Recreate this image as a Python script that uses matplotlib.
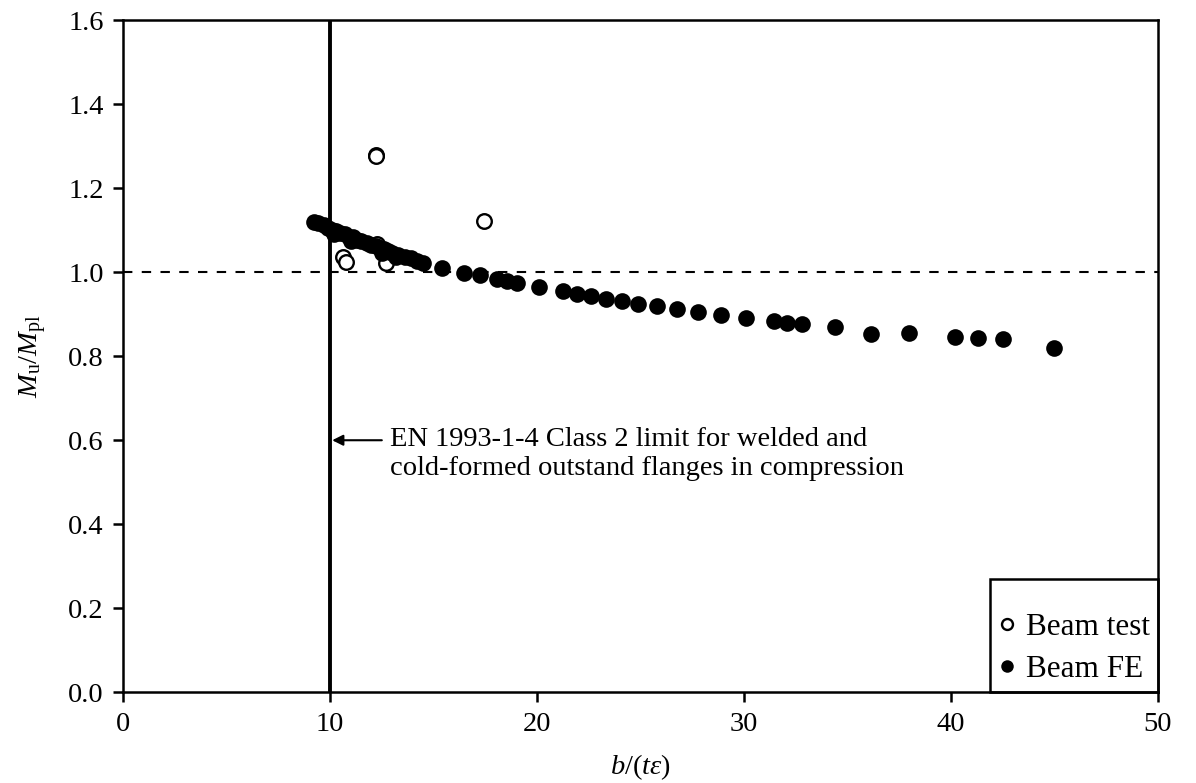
import numpy as np
import matplotlib
matplotlib.use('Agg')
import matplotlib.pyplot as plt
from matplotlib.patches import Rectangle

plt.rcParams['font.family'] = ['Liberation Serif', 'DejaVu Serif']
plt.rcParams['mathtext.fontset'] = 'custom'
plt.rcParams['mathtext.rm'] = 'Liberation Serif'
plt.rcParams['mathtext.it'] = 'Liberation Serif:italic'

# Beam FE results (filled)
fe_x = [9.2, 9.4, 9.7, 9.9, 10.1, 10.2, 10.3, 10.5, 10.7, 10.9, 11.0, 11.1, 11.3, 11.5,
        11.8, 12.0, 12.2, 12.4, 12.5, 12.6, 12.8, 13.0, 13.2, 13.3, 13.6, 13.9, 14.2, 14.5,
        15.42, 16.45, 17.23, 18.06, 18.55, 19.03, 20.09, 21.24, 21.92, 22.59, 23.33, 24.1,
        24.9, 25.8, 26.75, 27.8, 28.9, 30.1, 31.45, 32.1, 32.8, 34.4, 36.15, 38.0, 40.2,
        41.3, 42.5, 45.0]
fe_y = [1.120, 1.117, 1.112, 1.105, 1.100, 1.090, 1.098, 1.093, 1.090, 1.085, 1.074, 1.083,
        1.078, 1.075, 1.070, 1.066, 1.062, 1.058, 1.046, 1.055, 1.050, 1.046, 1.036, 1.042,
        1.037, 1.033, 1.028, 1.022,
        1.011, 0.999, 0.993, 0.983, 0.979, 0.975, 0.964, 0.955, 0.948, 0.943, 0.937, 0.931,
        0.925, 0.919, 0.913, 0.905, 0.898, 0.892, 0.883, 0.880, 0.877, 0.870, 0.854, 0.856,
        0.846, 0.843, 0.840, 0.820]

# Beam test results (open)
test_x = [12.2, 12.2, 17.45, 10.6, 10.75, 12.25, 12.7]
test_y = [1.280, 1.276, 1.123, 1.036, 1.024, 1.068, 1.022]

class2_limit = 10
note = 'EN 1993-1-4 Class 2 limit for welded and\ncold-formed outstand flanges in compression'

fs = 20.5

fig = plt.figure(figsize=(11.96, 7.83), dpi=100)
ax = fig.add_axes([0.103, 0.116, 0.865, 0.858])

ax.axvline(class2_limit, color='black', lw=2.8, zorder=1)
ax.axhline(1.0, color='black', lw=1.5, dashes=(4.5, 4.5), zorder=1)

ax.plot(test_x, test_y, 'o', ms=10.5, mfc='white', mec='black', mew=1.7,
        label='Beam test', zorder=2)
ax.plot(fe_x, fe_y, 'o', ms=12, mfc='black', mec='black', mew=0,
        label='Beam FE', zorder=3)

# arrow pointing at the Class 2 limit line
ax.annotate('', xy=(class2_limit, 0.6), xytext=(12.5, 0.6),
            arrowprops=dict(arrowstyle='-|>', color='black', lw=1.5,
                            mutation_scale=16, shrinkA=0, shrinkB=1.5))
ax.text(12.9, 0.631, note, fontsize=fs, va='top', ha='left', linespacing=1.22)

ax.set_xlim(0, 50)
ax.set_ylim(0, 1.6)
ax.set_xticks(np.arange(0, 51, 10))
ax.set_yticks(np.arange(0, 1.61, 0.2))
ax.yaxis.set_major_formatter(matplotlib.ticker.FormatStrFormatter('%.1f'))
ax.tick_params(direction='out', length=7, width=1.8, labelsize=fs, pad=7)
for s in ax.spines.values():
    s.set_linewidth(1.8)

ax.set_xlabel(r'$b/(t\varepsilon)$', fontsize=fs, labelpad=11)
ax.set_ylabel(r'$M_\mathrm{u}/M_\mathrm{pl}$', fontsize=fs, labelpad=14)

# legend box drawn separately (Excel-style, tight on the right)
ax.add_patch(Rectangle((0.838, 0.0), 0.162, 0.168, transform=ax.transAxes,
                       fill=False, edgecolor='black', lw=1.8, zorder=5, clip_on=False))
leg = ax.legend(loc='lower right', bbox_to_anchor=(1.0, 0.0), fontsize=22.5,
                frameon=False, borderaxespad=0.05, borderpad=0.2,
                handletextpad=0.15, handlelength=0.9, labelspacing=0.42,
                markerscale=0.75)

fig.savefig('out.png', dpi=100)
